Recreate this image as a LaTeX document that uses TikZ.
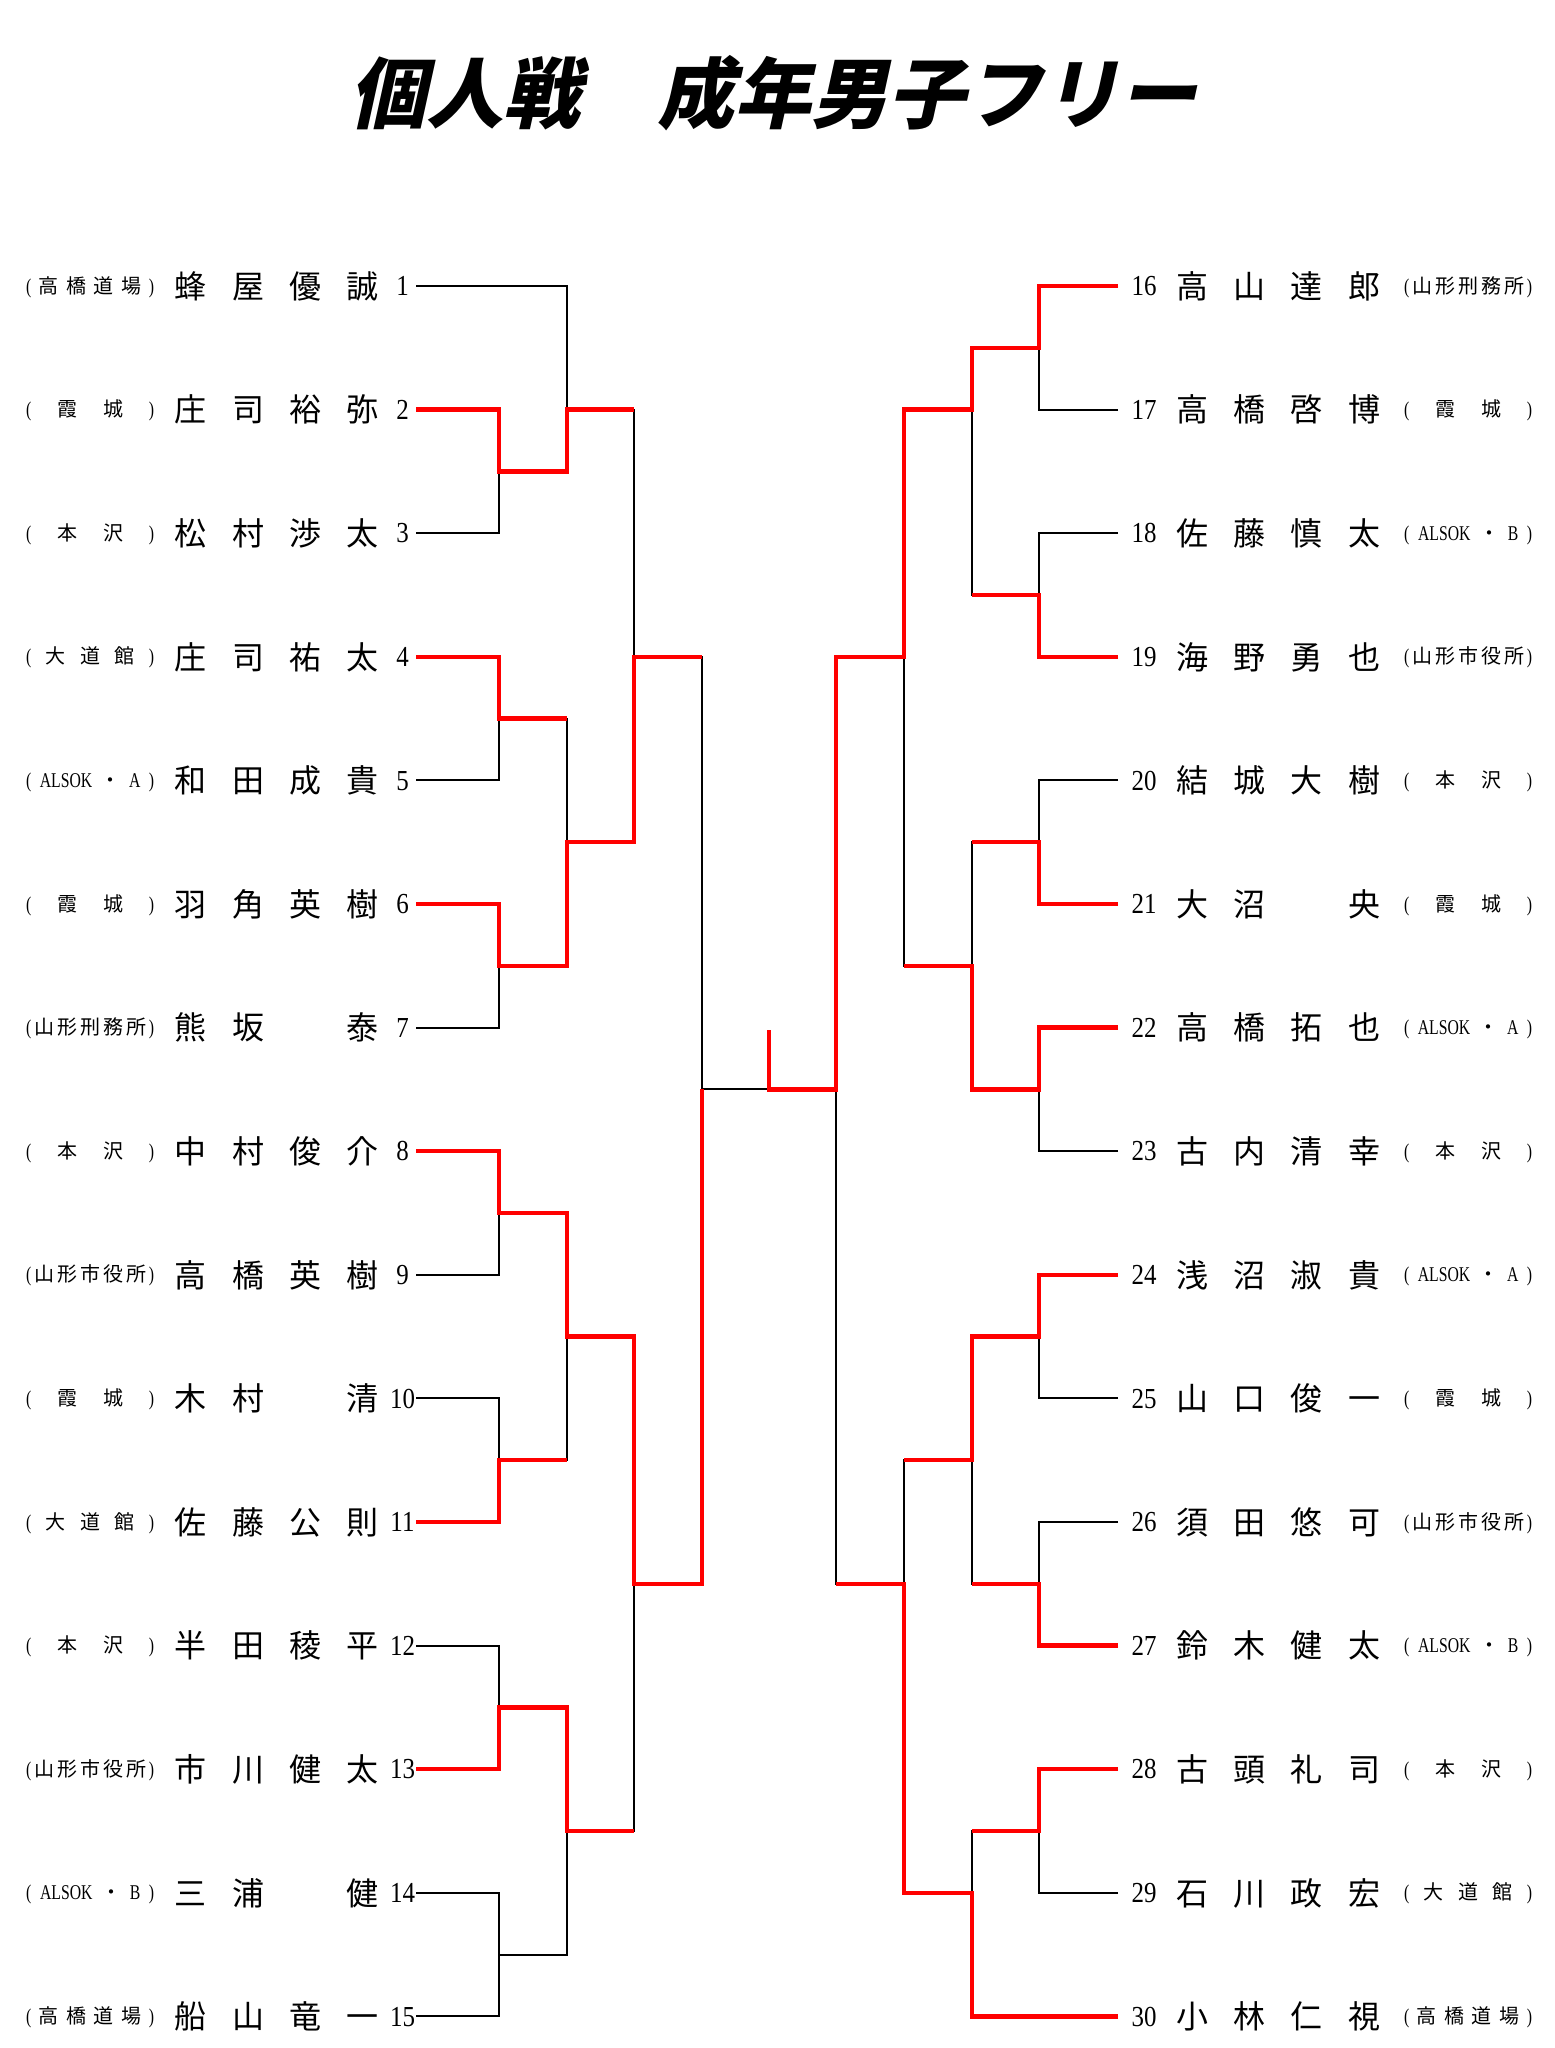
\documentclass[tikz,border=0pt]{standalone}
\usepackage{fontspec}
\newfontfamily\jp{Noto Sans CJK JP}
\newfontfamily\jptitle{Noto Sans CJK JP}[FakeSlant=0.22]
\newfontfamily\numfont{Liberation Serif}[FakeStretch=0.86]
\newfontfamily\latclub{Liberation Serif}[FakeStretch=0.75]

\newcommand\K[1]{{\jp\fontsize{20}{22}\selectfont #1}}
\newcommand\slotbox[1]{\makebox[57.3pt]{#1}}
\newcommand\nm[4]{\slotbox{#1}\slotbox{#2}\slotbox{#3}\slotbox{#4}}
\newcommand\clubbox[1]{\hbox to 128pt{#1}}
\newcommand\cTH{\clubbox{(\hfill\K{高}\hfill\K{橋}\hfill\K{道}\hfill\K{場}\hfill)}}
\newcommand\cKJ{\clubbox{(\hfill\K{霞}\hfill\K{城}\hfill)}}
\newcommand\cMS{\clubbox{(\hfill\K{本}\hfill\K{沢}\hfill)}}
\newcommand\cDD{\clubbox{(\hfill\K{大}\hfill\K{道}\hfill\K{館}\hfill)}}
\newcommand\cAA{\clubbox{(\hfill ALSOK\hfill\K{・}\hfill A\hfill)}}
\newcommand\cAB{\clubbox{(\hfill ALSOK\hfill\K{・}\hfill B\hfill)}}
\newcommand\cYK{\clubbox{(\hfill\K{山}\hfill\K{形}\hfill\K{刑}\hfill\K{務}\hfill\K{所}\hfill)}}
\newcommand\cYS{\clubbox{(\hfill\K{山}\hfill\K{形}\hfill\K{市}\hfill\K{役}\hfill\K{所}\hfill)}}

\tikzset{
  namesty/.style={inner sep=0pt, font=\jp\fontsize{32}{36}\selectfont},
  numsty/.style={inner sep=0pt, font=\numfont\fontsize{29}{32}\selectfont},
  clubsty/.style={inner sep=0pt, font=\latclub\fontsize{21}{24}\selectfont},
  titlesty/.style={inner sep=0pt, font=\jptitle\bfseries\fontsize{77}{80}\selectfont},
  lose/.style={line width=2pt, black, line join=miter},
  win/.style={line width=4.5pt, red, line join=miter}
}

\newcommand\entryL[6]{%
  \pgfmathsetmacro\yy{286+(#1-1)*123.6}%
  \node[clubsty, anchor=base west] (c#1) at (26,\yy+7) {#2};
  \node[namesty, anchor=base west] (n#1) at (162.1,\yy+12.2) {\nm{#3}{#4}{#5}{#6}};
  \node[numsty, anchor=base] (num#1) at (402.5,\yy+9.6) {#1};
  \coordinate (a#1) at (416,\yy);
}
\newcommand\entryR[7]{%
  \pgfmathsetmacro\yy{286+(#2-1)*123.6}%
  \node[numsty, anchor=base] (num#1) at (1144,\yy+9.6) {#1};
  \node[namesty, anchor=base west] (n#1) at (1163.4,\yy+12.2) {\nm{#4}{#5}{#6}{#7}};
  \node[clubsty, anchor=base west] (c#1) at (1404,\yy+7) {#3};
  \coordinate (b#1) at (1118,\yy);
}

\begin{document}
\begin{tikzpicture}[x=1pt, y=-1pt]
\fill[white] (0,0) rectangle (1555,2048);
\useasboundingbox (0,0) rectangle (1555,2048);

\node[titlesty] (title) at (773,93) {個人戦　成年男子フリー};

% left entries
\entryL{1}{\cTH}{蜂}{屋}{優}{誠}
\entryL{2}{\cKJ}{庄}{司}{裕}{弥}
\entryL{3}{\cMS}{松}{村}{渉}{太}
\entryL{4}{\cDD}{庄}{司}{祐}{太}
\entryL{5}{\cAA}{和}{田}{成}{貴}
\entryL{6}{\cKJ}{羽}{角}{英}{樹}
\entryL{7}{\cYK}{熊}{坂}{}{泰}
\entryL{8}{\cMS}{中}{村}{俊}{介}
\entryL{9}{\cYS}{高}{橋}{英}{樹}
\entryL{10}{\cKJ}{木}{村}{}{清}
\entryL{11}{\cDD}{佐}{藤}{公}{則}
\entryL{12}{\cMS}{半}{田}{稜}{平}
\entryL{13}{\cYS}{市}{川}{健}{太}
\entryL{14}{\cAB}{三}{浦}{}{健}
\entryL{15}{\cTH}{船}{山}{竜}{一}

% right entries
\entryR{16}{1}{\cYK}{高}{山}{達}{郎}
\entryR{17}{2}{\cKJ}{高}{橋}{啓}{博}
\entryR{18}{3}{\cAB}{佐}{藤}{慎}{太}
\entryR{19}{4}{\cYS}{海}{野}{勇}{也}
\entryR{20}{5}{\cMS}{結}{城}{大}{樹}
\entryR{21}{6}{\cKJ}{大}{沼}{}{央}
\entryR{22}{7}{\cAA}{高}{橋}{拓}{也}
\entryR{23}{8}{\cMS}{古}{内}{清}{幸}
\entryR{24}{9}{\cAA}{浅}{沼}{淑}{貴}
\entryR{25}{10}{\cKJ}{山}{口}{俊}{一}
\entryR{26}{11}{\cYS}{須}{田}{悠}{可}
\entryR{27}{12}{\cAB}{鈴}{木}{健}{太}
\entryR{28}{13}{\cMS}{古}{頭}{礼}{司}
\entryR{29}{14}{\cDD}{石}{川}{政}{宏}
\entryR{30}{15}{\cTH}{小}{林}{仁}{視}

% junctions left
\coordinate (LA1) at (499,471.4);
\coordinate (LA2) at (499,718.6);
\coordinate (LA3) at (499,965.8);
\coordinate (LA4) at (499,1213);
\coordinate (LA5) at (499,1460.2);
\coordinate (LA6) at (499,1707.4);
\coordinate (LA7) at (499,1954.6);
\coordinate (LB1) at (567,409.6);
\coordinate (LB2) at (567,842.2);
\coordinate (LB3) at (567,1336.6);
\coordinate (LB4) at (567,1831);
\coordinate (LC1) at (634,656.8);
\coordinate (LC2) at (634,1583.8);
\coordinate (LD) at (702,1089.4);
\coordinate (F) at (769,1089.4);
\coordinate (Ftop) at (769,1030);
% junctions right
\coordinate (RA1) at (1039,347.8);
\coordinate (RA2) at (1039,595);
\coordinate (RA3) at (1039,842.2);
\coordinate (RA4) at (1039,1089.4);
\coordinate (RA5) at (1039,1336.6);
\coordinate (RA6) at (1039,1583.8);
\coordinate (RA7) at (1039,1831);
\coordinate (RB1) at (972,409.6);
\coordinate (RB2) at (972,965.8);
\coordinate (RB3) at (972,1460.2);
\coordinate (RB4) at (972,1892.8);
\coordinate (RC1) at (904,656.8);
\coordinate (RC2) at (904,1583.8);
\coordinate (RD) at (836,1089.4);

% black skeleton
\draw[lose] (a1) -| (LB1);
\draw[lose] (a2) -| (LA1); \draw[lose] (a3) -| (LA1);
\draw[lose] (a4) -| (LA2); \draw[lose] (a5) -| (LA2);
\draw[lose] (a6) -| (LA3); \draw[lose] (a7) -| (LA3);
\draw[lose] (a8) -| (LA4); \draw[lose] (a9) -| (LA4);
\draw[lose] (a10) -| (LA5); \draw[lose] (a11) -| (LA5);
\draw[lose] (a12) -| (LA6); \draw[lose] (a13) -| (LA6);
\draw[lose] (a14) -| (LA7); \draw[lose] (a15) -| (LA7);
\draw[lose] (LA1) -| (LB1);
\draw[lose] (LA2) -| (LB2); \draw[lose] (LA3) -| (LB2);
\draw[lose] (LA4) -| (LB3); \draw[lose] (LA5) -| (LB3);
\draw[lose] (LA6) -| (LB4); \draw[lose] (LA7) -| (LB4);
\draw[lose] (LB1) -| (LC1); \draw[lose] (LB2) -| (LC1);
\draw[lose] (LB3) -| (LC2); \draw[lose] (LB4) -| (LC2);
\draw[lose] (LC1) -| (LD); \draw[lose] (LC2) -| (LD);
\draw[lose] (LD) -- (F);

\draw[lose] (b16) -| (RA1); \draw[lose] (b17) -| (RA1);
\draw[lose] (b18) -| (RA2); \draw[lose] (b19) -| (RA2);
\draw[lose] (b20) -| (RA3); \draw[lose] (b21) -| (RA3);
\draw[lose] (b22) -| (RA4); \draw[lose] (b23) -| (RA4);
\draw[lose] (b24) -| (RA5); \draw[lose] (b25) -| (RA5);
\draw[lose] (b26) -| (RA6); \draw[lose] (b27) -| (RA6);
\draw[lose] (b28) -| (RA7); \draw[lose] (b29) -| (RA7);
\draw[lose] (b30) -| (RB4);
\draw[lose] (RA1) -| (RB1); \draw[lose] (RA2) -| (RB1);
\draw[lose] (RA3) -| (RB2); \draw[lose] (RA4) -| (RB2);
\draw[lose] (RA5) -| (RB3); \draw[lose] (RA6) -| (RB3);
\draw[lose] (RA7) -| (RB4);
\draw[lose] (RB1) -| (RC1); \draw[lose] (RB2) -| (RC1);
\draw[lose] (RB3) -| (RC2); \draw[lose] (RB4) -| (RC2);
\draw[lose] (RC1) -| (RD); \draw[lose] (RC2) -| (RD);
\draw[lose] (RD) -- (F);

% winners (red)
\draw[win] (a2) -| (LA1) -| (LB1) -- (LB1 -| LC1);
\draw[win] (a4) -| (LA2) -- (LA2 -| LB2);
\draw[win] (a6) -| (LA3) -| (LB2) -| (LC1) -- (LC1 -| LD);
\draw[win] (a8) -| (LA4) -| (LB3) -| (LC2) -| (LD);
\draw[win] (a11) -| (LA5) -- (LA5 -| LB3);
\draw[win] (a13) -| (LA6) -| (LB4) -- (LB4 -| LC2);

\draw[win] (b16) -| (RA1) -| (RB1) -| (RC1) -| (RD) -| (Ftop);
\draw[win] (b19) -| (RA2) -- (RA2 -| RB1);
\draw[win] (b21) -| (RA3) -- (RA3 -| RB2);
\draw[win] (b22) -| (RA4) -| (RB2) -- (RB2 -| RC1);
\draw[win] (b24) -| (RA5) -| (RB3) -- (RB3 -| RC2);
\draw[win] (b27) -| (RA6) -- (RA6 -| RB3);
\draw[win] (b28) -| (RA7) -- (RA7 -| RB4);
\draw[win] (b30) -| (RB4) -| (RC2) -- (RC2 -| RD);
\end{tikzpicture}
\end{document}
